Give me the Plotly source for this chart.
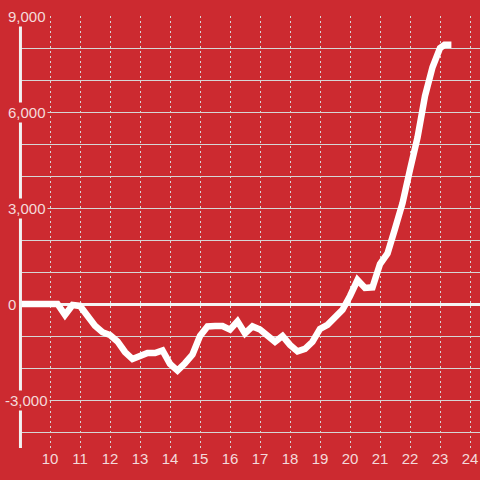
import plotly.graph_objects as go

# ---- data ----
hours = [9.0, 9.25, 9.5, 9.75, 10.0, 10.25, 10.5, 10.75, 11.0, 11.25, 11.5, 11.75,
         12.0, 12.25, 12.5, 12.75, 13.0, 13.25, 13.5, 13.75, 14.0, 14.25, 14.5, 14.75,
         15.0, 15.25, 15.5, 15.75, 16.0, 16.25, 16.5, 16.75, 17.0, 17.25, 17.5, 17.75,
         18.0, 18.25, 18.5, 18.75, 19.0, 19.25, 19.5, 19.75, 20.0, 20.25, 20.5, 20.75,
         21.0, 21.25, 21.5, 21.75, 22.0, 22.25, 22.5, 22.75, 23.0, 23.15, 23.38]
values = [0, 0, 0, 0, 0, 0, -340, -30, -60, -380, -680, -880,
          -970, -1170, -1500, -1720, -1600, -1530, -1530, -1450, -1870, -2080, -1850, -1580,
          -1000, -700, -690, -690, -800, -540, -920, -700, -800, -990, -1180, -1000,
          -1280, -1480, -1400, -1180, -780, -650, -400, -180, 250, 750, 500, 520,
          1250, 1580, 2350, 3150, 4200, 5200, 6500, 7400, 8000, 8100, 8100]

x_ticks = [10, 11, 12, 13, 14, 15, 16, 17, 18, 19, 20, 21, 22, 23, 24]
y_label_vals = [9000, 6000, 3000, 0, -3000]
y_label_text = ["9,000", "6,000", "3,000", "0", "-3,000"]

BG = "#cc2a30"
GRID = "#d6d6d6"
LABEL = "#f4dadb"
FONT = "Liberation Sans, Arial, sans-serif"

fig = go.Figure()
fig.add_trace(go.Scatter(x=hours, y=values, mode="lines",
                         line=dict(color="white", width=6.5),
                         hoverinfo="skip", showlegend=False))

# y axis line
fig.add_shape(type="line", xref="paper", yref="y", x0=0.001, x1=0.001,
              y0=-4500, y1=9000, line=dict(color="#f2f2f2", width=3), layer="above")

# y tick labels as annotations with a background to break lines
L = 20
W = 460
for v, t in zip(y_label_vals, y_label_text):
    px = 3 if t.startswith("-") else 6
    fig.add_annotation(x=(px - L) / W, xref="paper", y=v, yref="y",
                       xanchor="left", yanchor="middle", text=t, showarrow=False,
                       bgcolor=BG, borderpad=1,
                       font=dict(family=FONT, size=15, color=LABEL))

fig.update_layout(
    width=480, height=480,
    margin=dict(l=L, r=0, t=16, b=32),
    paper_bgcolor=BG, plot_bgcolor=BG,
    showlegend=False,
    xaxis=dict(range=[9, 24.333], tickvals=x_ticks, ticktext=[str(v) for v in x_ticks],
               showgrid=True, gridcolor=GRID, gridwidth=1, griddash="2px,3px",
               zeroline=False, showline=False, ticks="",
               tickfont=dict(family=FONT, size=15, color=LABEL), fixedrange=True),
    yaxis=dict(range=[-4500, 9000], dtick=1000, tick0=0,
               showgrid=True, gridcolor=GRID, gridwidth=1,
               zeroline=True, zerolinecolor="#f4f4f4", zerolinewidth=3,
               showline=False, showticklabels=False, ticks="", fixedrange=True),
)

fig.write_html("out.html", config={"displayModeBar": False, "staticPlot": True},
               post_script="document.body.style.margin='0';document.body.style.background='%s';" % BG)
